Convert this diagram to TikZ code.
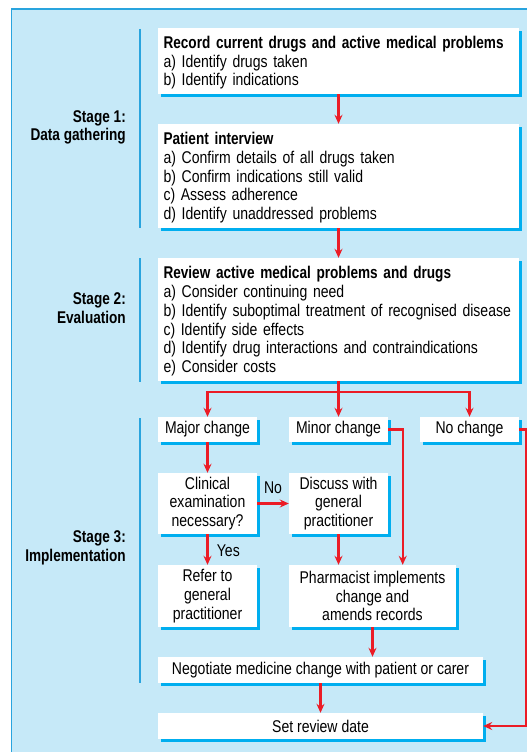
\documentclass[tikz,border=0pt]{standalone}
\usepackage{fontspec}
\setmainfont{Liberation Sans}[FakeStretch=0.825, BoldFeatures={FakeStretch=0.8}]
\usetikzlibrary{arrows.meta,shadows}
\definecolor{panelblue}{RGB}{198,233,248}
\definecolor{edgeblue}{RGB}{41,164,222}
\definecolor{shadecyan}{RGB}{0,174,239}
\definecolor{arrowred}{RGB}{235,28,38}

\begin{document}
\begin{tikzpicture}[x=1pt, y=-1pt,
>={Stealth[length=9pt, width=8pt, inset=3pt]},
block/.style={fill=white, rectangle, inner xsep=5.5pt, inner ysep=0pt, font=\fontsize{17}{18.7}\selectfont,
  drop shadow={shadow xshift=3pt, shadow yshift=-3pt, fill=shadecyan, opacity=1}},
listbox/.style={block, text width=350pt, align=left, minimum width=361pt, execute at begin node={\rule{0pt}{16pt}}},
smallbox/.style={block, align=center, minimum width=99pt},
stage/.style={anchor=east, align=right, inner sep=0pt, font=\bfseries\fontsize{17}{18.7}\selectfont},
link/.style={draw=arrowred, line width=2.1pt, ->}]

\useasboundingbox (0,0) rectangle (527,752);
\fill[panelblue] (11.5,9) rectangle (540,760);
\draw[edgeblue, line width=1.5pt] (11.5,760) -- (11.5,9) -- (540,9);

% stages
\node[stage] (S1) at (126,127.5) {Stage 1:\\Data gathering};
\node[stage] (S2) at (126,308)   {Stage 2:\\Evaluation};
\node[stage] (S3) at (126,548)   {Stage 3:\\Implementation};
\draw[edgeblue, line width=2pt] (139.5,29) -- (139.5,228);
\draw[edgeblue, line width=2pt] (139.5,258) -- (139.5,382);
\draw[edgeblue, line width=2pt] (139.5,418) -- (139.5,683);

\node[listbox, minimum height=66pt]  (A) at (338.5,61)    {\textbf{Record current drugs and active medical problems}\\a) Identify drugs taken\\b) Identify indications};
\node[listbox, minimum height=104pt] (B) at (338.5,176)   {\textbf{Patient interview}\\a) Confirm details of all drugs taken\\b) Confirm indications still valid\\c) Assess adherence\\d) Identify unaddressed problems};
\node[listbox, minimum height=123pt] (C) at (338.5,319.5) {\textbf{Review active medical problems and drugs}\\a) Consider continuing need\\b) Identify suboptimal treatment of recognised disease\\c) Identify side effects\\d) Identify drug interactions and contraindications\\e) Consider costs};

\node[smallbox, minimum height=25pt] (D) at (207.5,429.5) {Major change};
\node[smallbox, minimum height=25pt] (E) at (338.5,429.5) {Minor change};
\node[smallbox, minimum height=25pt] (F) at (469.5,429.5) {No change};

\node[smallbox, minimum height=61pt] (G) at (207.5,503.5) {Clinical\\examination\\necessary?};
\node[smallbox, minimum height=61pt] (H) at (338.5,503.5) {Discuss with\\general\\practitioner};

\node[smallbox, minimum height=62pt] (I) at (207.5,596) {Refer to\\general\\practitioner};
\node[block, align=center, minimum width=167pt, minimum height=62pt] (J) at (372.5,596) {Pharmacist implements\\change and\\amends records};

\node[block, minimum width=325pt, minimum height=26pt] (K) at (320.5,670) {Negotiate medicine change with patient or carer};
\node[block, minimum width=325pt, minimum height=26pt] (L) at (320.5,726) {Set review date};

\coordinate (fork) at ([yshift=-11pt]C.south);

\path[link, font=\fontsize{17}{18.7}\selectfont]
 (A) edge (B)
 (B) edge (C)
 (D) edge (G)
 (G) edge node[right, xshift=5pt, yshift=-1pt] {Yes} (I)
 (G) edge node[above, yshift=5pt] {No} (H)
 (K) edge (L);

\draw[link] (H.south) -- (H.south |- J.north);
\draw[link] (J.south) -- (J.south |- K.north);
\draw[link, -] (C.south) -- (fork);
\draw[link] (fork) -| (D.north);
\draw[link] (fork) -- (E.north);
\draw[link] (fork) -| (F.north);
\draw[link] (E.east) -| ([xshift=14.5pt]E.east |- J.north);
\draw[link] (F.east) -- ++(6.5,0) |- (L.east);

\end{tikzpicture}
\end{document}
